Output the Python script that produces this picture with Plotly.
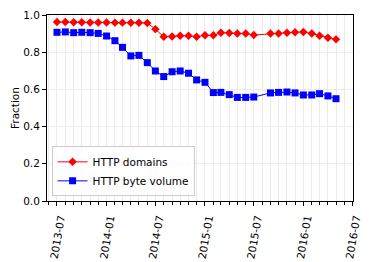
import plotly.graph_objects as go

months = ["2013-07", "2013-08", "2013-09", "2013-10", "2013-11", "2013-12",
          "2014-01", "2014-02", "2014-03", "2014-04", "2014-05", "2014-06",
          "2014-07", "2014-08", "2014-09", "2014-10", "2014-11", "2014-12",
          "2015-01", "2015-02", "2015-03", "2015-04", "2015-05", "2015-06",
          "2015-07", "2015-09", "2015-10", "2015-11", "2015-12",
          "2016-01", "2016-02", "2016-03", "2016-04", "2016-05"]

http_domains = [0.962, 0.962, 0.961, 0.961, 0.960, 0.960,
                0.960, 0.959, 0.959, 0.958, 0.958, 0.957,
                0.924, 0.883, 0.884, 0.889, 0.889, 0.883,
                0.891, 0.891, 0.905, 0.903, 0.901, 0.900,
                0.892, 0.900, 0.900, 0.905, 0.907,
                0.909, 0.900, 0.889, 0.878, 0.869]

http_bytes = [0.907, 0.909, 0.905, 0.907, 0.905, 0.901,
              0.887, 0.862, 0.826, 0.780, 0.783, 0.744,
              0.699, 0.669, 0.695, 0.699, 0.687, 0.651,
              0.638, 0.583, 0.584, 0.572, 0.557, 0.557,
              0.559, 0.581, 0.584, 0.586, 0.581,
              0.570, 0.570, 0.577, 0.565, 0.550]

y_ticks = [0.0, 0.2, 0.4, 0.6, 0.8, 1.0]
x_ticks = ["2013-07-01", "2014-01-01", "2014-07-01", "2015-01-01",
           "2015-07-01", "2016-01-01", "2016-07-01"]
x_tick_labels = ["2013-07", "2014-01", "2014-07", "2015-01",
                 "2015-07", "2016-01", "2016-07"]

dates = [m + "-01" for m in months]

fig = go.Figure()
fig.add_trace(go.Scatter(
    x=dates, y=http_domains, name="HTTP domains", mode="lines+markers",
    line=dict(color="#ff0000", width=1),
    marker=dict(symbol="diamond", size=6.5, color="#ff0000"),
))
fig.add_trace(go.Scatter(
    x=dates, y=http_bytes, name="HTTP byte volume", mode="lines+markers",
    line=dict(color="#0000ff", width=1),
    marker=dict(symbol="square", size=7, color="#0000ff"),
))

axis_font = dict(family="DejaVu Sans", size=10.5, color="#000000")

fig.update_layout(
    width=374, height=262,
    margin=dict(l=47, r=21, t=15, b=61, autoexpand=False),
    paper_bgcolor="white", plot_bgcolor="white",
    font=axis_font,
    showlegend=True,
    legend=dict(
        x=0.015, y=0.025, xanchor="left", yanchor="bottom",
        bgcolor="rgba(255,255,255,0.85)", bordercolor="#cccccc", borderwidth=1,
        font=dict(family="DejaVu Sans", size=10.5, color="#000000"),
        tracegroupgap=0, itemwidth=30,
    ),
    xaxis=dict(
        type="date", automargin=False,
        range=["2013-05-25", "2016-07-03"],
        tickmode="array", tickvals=x_ticks, ticktext=x_tick_labels,
        tickangle=-80, ticks="outside", ticklen=4, tickcolor="#000000",
        ticklabelshift=3, ticklabelstandoff=2,
        showline=True, linecolor="#000000", linewidth=1, mirror=True,
        showgrid=True, gridcolor="#ebebeb", gridwidth=1,
        minor=dict(dtick="M1", tick0="2013-07-01", ticks="outside", ticklen=3,
                   tickcolor="#000000", showgrid=True, gridcolor="#ebebeb", gridwidth=1),
        tickfont=axis_font,
        zeroline=False,
    ),
    yaxis=dict(
        range=[0, 1.0], automargin=False,
        tickmode="array", tickvals=y_ticks, ticktext=[f"{v:.1f}" for v in y_ticks],
        ticks="outside", ticklen=4, tickcolor="#000000",
        showline=True, linecolor="#000000", linewidth=1, mirror=True,
        showgrid=True, gridcolor="#ebebeb", gridwidth=1,
        title=dict(text="Fraction", font=axis_font, standoff=1),
        tickfont=axis_font,
        zeroline=False,
    ),
)

fig.write_html("out.html", config={"displayModeBar": False},
               post_script="document.body.style.margin='0';")
